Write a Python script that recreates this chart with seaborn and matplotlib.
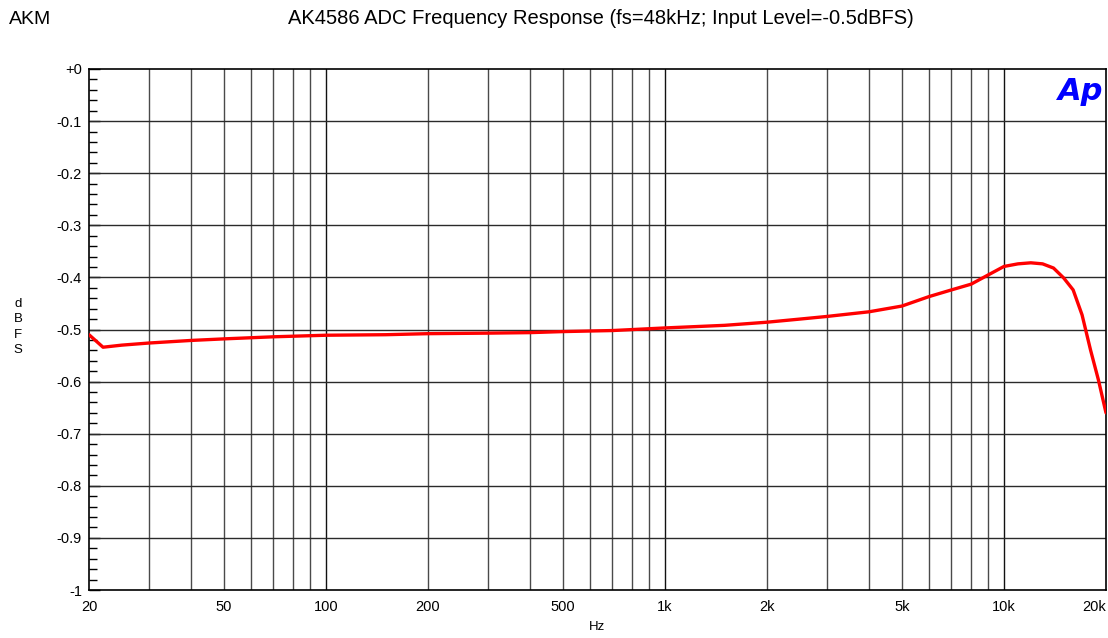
import numpy as np
import pandas as pd
import matplotlib
matplotlib.use("Agg")
import matplotlib.pyplot as plt
import seaborn as sns
from matplotlib.ticker import FixedLocator, NullFormatter, MultipleLocator

freq_hz = [20, 22, 25, 30, 40, 50, 70, 100, 150, 200, 300, 400, 500, 700, 1000, 1500, 2000,
           2500, 3000, 4000, 5000, 6000, 7000, 8000, 9000, 10000, 11000, 12000, 13000,
           14000, 15000, 16000, 17000, 18000, 19000, 20000]
level_dbfs = [-0.510, -0.534, -0.530, -0.526, -0.521, -0.518, -0.514, -0.511, -0.510, -0.508,
              -0.507, -0.506, -0.504, -0.502, -0.497, -0.492, -0.486, -0.480, -0.475, -0.466,
              -0.455, -0.437, -0.424, -0.413, -0.395, -0.379, -0.374, -0.372, -0.374,
              -0.382, -0.401, -0.424, -0.472, -0.539, -0.597, -0.660]

x_tick_vals = [20, 50, 100, 200, 500, 1000, 2000, 5000, 10000, 20000]
x_tick_labels = ["20", "50", "100", "200", "500", "1k", "2k", "5k", "10k", "20k"]
y_tick_vals = [0, -0.1, -0.2, -0.3, -0.4, -0.5, -0.6, -0.7, -0.8, -0.9, -1.0]
y_tick_labels = ["+0", "-0.1", "-0.2", "-0.3", "-0.4", "-0.5", "-0.6", "-0.7", "-0.8", "-0.9", "-1"]

sns.set_style("white")
plt.rcParams['font.family'] = ['Liberation Sans', 'DejaVu Sans']
plt.rcParams['text.color'] = 'black'
plt.rcParams['xtick.color'] = 'black'
plt.rcParams['ytick.color'] = 'black'
plt.rcParams['axes.labelcolor'] = 'black'

fig = plt.figure(figsize=(11.08, 6.38), dpi=100)
ax = fig.add_axes([89/1108, 1-590/638, (1106-89)/1108, (590-69)/638])

df = pd.DataFrame({"Hz": freq_hz, "dBFS": level_dbfs})
ax.set_xscale("log")
ax.set_xlim(20, 20000)
ax.set_ylim(-1.0, 0.0)

# grid lines
decades = [100, 1000, 10000]
grid_x = [v * d for d in (10, 100, 1000) for v in range(2, 11)]
grid_x = [g for g in grid_x if 20 < g < 20000]
for g in grid_x:
    ax.axvline(g, color="#111111" if g in decades else "#4a4a4a", lw=1.0, zorder=1)
for g in y_tick_vals[1:-1]:
    ax.axhline(g, color="#2a2a2a", lw=1.0, zorder=1)

sns.lineplot(data=df, x="Hz", y="dBFS", ax=ax, color="#ff0000", lw=2.4, zorder=3)

ax.xaxis.set_major_locator(FixedLocator(x_tick_vals))
ax.set_xticklabels(x_tick_labels)
ax.xaxis.set_minor_formatter(NullFormatter())
ax.xaxis.set_minor_locator(FixedLocator([]))
ax.tick_params(axis="x", which="major", length=0, pad=7, labelsize=10.5, colors="black")
ax.get_xticklabels()[-1].set_horizontalalignment("right")

ax.yaxis.set_major_locator(FixedLocator(y_tick_vals))
ax.set_yticklabels(y_tick_labels)
ax.yaxis.set_minor_locator(MultipleLocator(0.02))
ax.tick_params(axis="y", which="major", direction="in", length=8, width=1, pad=5,
               labelsize=10.5, colors="black")
ax.tick_params(axis="y", which="minor", direction="in", length=6, width=1, colors="black")
ax.yaxis.set_ticks_position("left")

for s in ax.spines.values():
    s.set_color("black")
    s.set_linewidth(1.2)

ax.set_xlabel("")
ax.set_ylabel("")
fig.text(597/1108, 1-627/638, "Hz", ha="center", va="center", fontsize=9.5, color="black")
fig.text(18/1108, 1-327/638, "d\nB\nF\nS", ha="center", va="center", fontsize=9.5,
         linespacing=1.4, color="black")

fig.text(9/1108, 1-19/638, "AKM", ha="left", va="center", fontsize=14, color="black")
fig.text(601/1108, 1-19/638, "AK4586 ADC Frequency Response (fs=48kHz; Input Level=-0.5dBFS)",
         ha="center", va="center", fontsize=14.5, color="black")

ax.text(0.998, 0.985, "Ap", transform=ax.transAxes, ha="right", va="top",
        fontsize=22, fontweight="heavy", fontstyle="italic", color="#0000ff",
        family=["DejaVu Sans"])

fig.savefig("out.png", dpi=100)
